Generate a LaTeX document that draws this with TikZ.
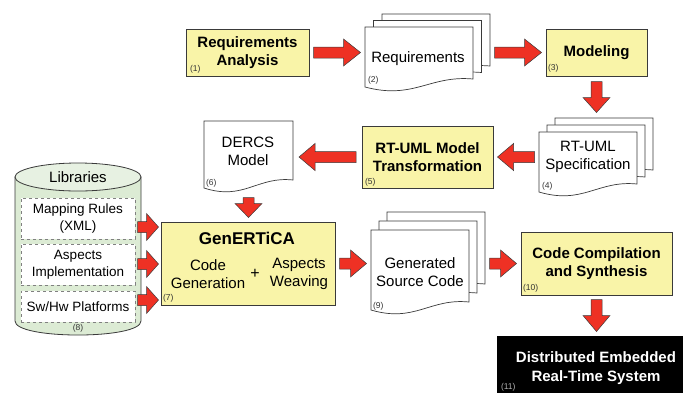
\documentclass[tikz,border=0pt]{standalone}
\usepackage{fontspec}
\setmainfont{Liberation Sans}
\usetikzlibrary{calc}
\definecolor{boxyellow}{HTML}{F9F4A8}
\definecolor{arrred}{HTML}{EE3124}
\definecolor{libgreen}{HTML}{DCEBD4}
\definecolor{libtop}{HTML}{E7F1E2}
\definecolor{edge}{HTML}{3A3A3A}
\definecolor{lblgray}{HTML}{333333}
\tikzset{
  every node/.style={inner sep=0pt, outer sep=0pt},
  stepbox/.style={draw=edge, line width=0.9pt, fill=boxyellow, align=center,
    font=\bfseries\fontsize{15}{18}\selectfont},
  pagestyle/.style={draw=edge, line width=0.7pt, fill=white},
  doctext/.style={align=center, font=\fontsize{15}{18}\selectfont},
  numlabel/.style={font=\fontsize{8.5}{10}\selectfont, text=lblgray, anchor=west},
  blockarrow/.style={fill=arrred, draw=edge, line width=0.5pt, line join=miter},
  libbox/.style={draw=gray, dashed, line width=0.8pt, fill=white, align=center,
    font=\fontsize{13.5}{16.5}\selectfont, minimum width=114pt},
}
% block arrow: gap, head length, from, to
\newcommand\barrow[4]{%
  \coordinate (bs) at #3; \coordinate (be) at #4;
  \coordinate (ba) at ($(bs)!#1pt!(be)$);
  \coordinate (bb) at ($(be)!#1pt!(bs)$);
  \coordinate (bc) at ($(bb)!#2pt!(ba)$);
  \draw[blockarrow] ($(ba)!5.5pt!90:(bb)$) -- ($(bc)!5.5pt!-90:(ba)$)
    -- ($(bc)!13.5pt!-90:(ba)$) -- (bb) -- ($(bc)!13.5pt!90:(ba)$)
    -- ($(bc)!5.5pt!90:(ba)$) -- ($(ba)!5.5pt!-90:(bb)$) -- cycle;}
% document page: x1, ytop, x2, ybottom(left)
\newcommand\page[4]{%
  \filldraw[pagestyle] (#1,#2) -- (#3,#2) -- (#3,{#4-8})
    .. controls ({#1+0.6*(#3-#1)},{#4-12}) and ({#1+0.45*(#3-#1)},{#4+13}) .. (#1,#4) -- cycle;}
\begin{document}
\begin{tikzpicture}[x=1pt,y=-1pt]
\useasboundingbox (0,0) rectangle (683,392);
\clip (0,0) rectangle (683,392);

% (1)
\node[stepbox, minimum width=123pt, minimum height=47pt] (box1) at (247.5,52.5) {Requirements\\Analysis};
\node[numlabel] (n1) at (190,69) {(1)};

% (2) Requirements document stack
\page{382}{14}{490}{74}
\page{373.5}{20.5}{481.5}{80.5}
\page{365}{27}{473}{87}
\node[minimum width=125pt, minimum height=77pt] (doc2) at (427.5,52.5) {};
\node[doctext] (t2) at (418,59) {Requirements};
\node[numlabel] (n2) at (368,80) {(2)};

% (3)
\node[stepbox, minimum width=101pt, minimum height=47pt] (box3) at (596.5,52.5) {Modeling};
\node[numlabel] (n3) at (548,68) {(3)};

% (4) RT-UML specification stack
\page{555}{118}{653}{178}
\page{547}{125}{645}{185}
\page{539}{132}{637}{192}
\node[minimum width=114pt, minimum height=78pt] (doc4) at (596,157) {};
\node[doctext] (t4) at (588,157) {RT-UML\\Specification};
\node[numlabel] (n4) at (542,186) {(4)};

% (5)
\node[stepbox, minimum width=131pt, minimum height=62pt] (box5) at (427.5,157) {RT-UML Model\\Transformation};
\node[numlabel] (n5) at (365,182) {(5)};

% (6) DERCS model
\page{204}{121}{293}{188}
\node[minimum width=89pt, minimum height=72pt] (doc6) at (248.5,157) {};
\node[doctext] (t6) at (248,151.5) {DERCS\\Model};
\node[numlabel] (n6) at (206,183) {(6)};

% (7) GenERTiCA
\node[stepbox, minimum width=174pt, minimum height=83pt] (box7) at (248,263.5) {};
\node[font=\bfseries\fontsize{17}{20}\selectfont] (gen) at (247,238) {GenERTiCA};
\node[doctext] (cg) at (208,274) {Code\\Generation};
\node[font=\fontsize{16}{18}\selectfont] (plus) at (255,274) {+};
\node[doctext] (aw) at (299,274) {Aspects\\Weaving};
\node[numlabel] (n7) at (163,298) {(7)};

% (8) Libraries cylinder
\filldraw[draw=edge, line width=0.8pt, fill=libgreen] (15,177) -- (15,321)
  .. controls (15,339.7) and (141,339.7) .. (141,321) -- (141,177) -- cycle;
\filldraw[draw=edge, line width=0.8pt, fill=libtop] (78,177) ellipse [x radius=63pt, y radius=14pt];
\node[doctext] (libt) at (78,177) {Libraries};
\node[libbox, minimum height=41pt] (lib1) at (78,218.5) {Mapping Rules\\(XML)};
\node[libbox, minimum height=41pt] (lib2) at (78,264.5) {Aspects\\Implementation};
\node[libbox, minimum height=31pt] (lib3) at (78,306.5) {Sw/Hw Platforms};
\node[font=\fontsize{8.5}{10}\selectfont, text=lblgray] (n8) at (78,328) {(8)};

% (9) Generated source code stack
\page{387}{212}{485}{292}
\page{379}{221}{477}{301}
\page{371}{230}{469}{310}
\node[minimum width=114pt, minimum height=102pt] (doc9) at (428,263) {};
\node[doctext] (t9) at (420,272.5) {Generated\\Source Code};
\node[numlabel] (n9) at (373,306) {(9)};

% (10)
\node[stepbox, minimum width=151pt, minimum height=63pt] (box10) at (596.5,263.5) {Code Compilation\\and Synthesis};
\node[numlabel] (n10) at (523,288) {(10)};

% (11)
\node[fill=black, minimum width=198pt, minimum height=64pt, text=white, align=center,
  font=\bfseries\fontsize{15}{19}\selectfont] (box11) at (596,368) {Distributed Embedded\\Real-Time System};
\node[numlabel, text=gray!60] (n11) at (501,387) {(11)};

% connectors
\barrow{4.5}{17}{(box1.east)}{(box1.east -| doc2.west)}
\barrow{4.5}{17}{(doc2.east |- box3.west)}{(box3.west)}
\barrow{5.5}{15}{(box3.south)}{(box3.south |- doc4.north)}
\barrow{4.5}{16}{(box5.east -| doc4.west)}{(box5.east)}
\barrow{6}{16}{(box5.west)}{(box5.west -| doc6.east)}
\barrow{4.5}{14}{(doc6.south)}{(doc6.south |- box7.north)}
\coordinate (l1) at ($(lib1.east)+(0,8.5)$);
\coordinate (l2) at ($(lib2.east)+(0,-0.5)$);
\coordinate (l3) at ($(lib3.east)+(0,-6.5)$);
\barrow{2.5}{12}{(l1)}{(l1 -| box7.west)}
\barrow{2.5}{12}{(l2)}{(l2 -| box7.west)}
\barrow{2.5}{12}{(l3)}{(l3 -| box7.west)}
\barrow{4.5}{16}{(box7.east)}{(box7.east -| doc9.west)}
\barrow{4.5}{16}{(doc9.east |- box10.west)}{(box10.west)}
\barrow{4.5}{16}{(box10.south)}{(box10.south |- box11.north)}
\end{tikzpicture}
\end{document}
